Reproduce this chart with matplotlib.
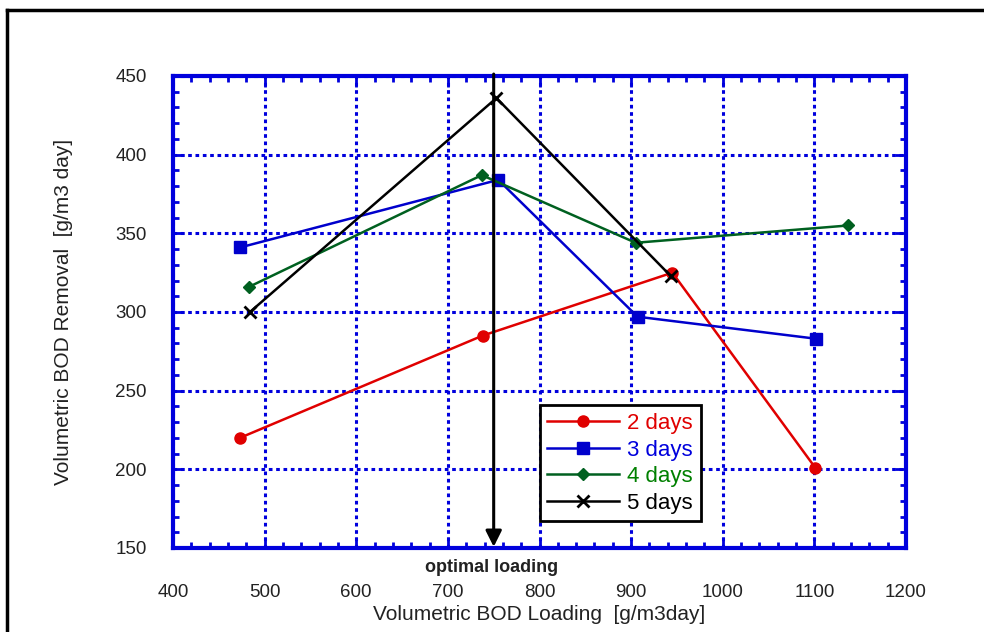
import numpy as np
import matplotlib
matplotlib.use("Agg")
import matplotlib.pyplot as plt
from matplotlib.lines import Line2D
from matplotlib.ticker import MultipleLocator

plt.rcParams['font.family'] = ['Liberation Sans', 'DejaVu Sans']

# data
x2 = [473, 738, 945, 1101]
y2 = [220, 285, 325, 201]
x3 = [473, 755, 907, 1102]
y3 = [341, 384, 297, 283]
x4 = [483, 737, 905, 1137]
y4 = [316, 387, 344, 355]
x5 = [484, 753, 943]
y5 = [300, 436, 323]
opt_x = 750

fig = plt.figure(figsize=(9.84, 6.32), dpi=100)
ax = fig.add_axes([173/984, 1-548/632, (906-173)/984, (548-76)/632])

ax.plot(x2, y2, color='#e00000', lw=1.8, marker='o', ms=8, label='2 days')
ax.plot(x3, y3, color='#0000cc', lw=1.8, marker='s', ms=8, label='3 days')
ax.plot(x4, y4, color='#006020', lw=1.8, marker='D', ms=6, label='4 days')
ax.plot(x5, y5, color='black', lw=1.8, marker='x', ms=9, mew=2, label='5 days')

ax.set_xlim(400, 1200)
ax.set_ylim(150, 450)
ax.xaxis.set_major_locator(MultipleLocator(100))
ax.xaxis.set_minor_locator(MultipleLocator(20))
ax.yaxis.set_major_locator(MultipleLocator(50))
ax.yaxis.set_minor_locator(MultipleLocator(10))
ax.tick_params(which='both', direction='in', top=True, right=True,
               color='#0000dd', labelsize=13.5, labelcolor='#222222')
ax.tick_params(axis='x', which='major', pad=26)
ax.tick_params(axis='y', which='major', pad=19)
ax.tick_params(which='major', length=8, width=2)
ax.tick_params(which='minor', length=4, width=2)
for s in ax.spines.values():
    s.set_color('#0000dd')
    s.set_linewidth(3)
ax.grid(True, which='major', color='#0000dd', ls=(0, (1.2, 1.2)), lw=2.2)
ax.set_axisbelow(True)

ax.set_xlabel('Volumetric BOD Loading  [g/m3day]', fontsize=15, color='#222222', labelpad=3)
ax.set_ylabel('Volumetric BOD Removal  [g/m3 day]', fontsize=15, color='#222222', labelpad=30)

# optimal loading arrow
ax.annotate('', xy=(opt_x, 149), xytext=(opt_x, 453),
            arrowprops=dict(arrowstyle='-|>', color='black', lw=2.2, mutation_scale=24),
            annotation_clip=False)
ax.text(opt_x - 2, 143, 'optimal loading', ha='center', va='top',
        fontsize=13, fontweight='bold', color='#222222')

leg = ax.legend(loc='upper left', bbox_to_anchor=(0.485, 0.326), fontsize=16,
                frameon=True, fancybox=False, handlelength=3.2,
                borderpad=0.35, labelspacing=0.25, handletextpad=0.4)
leg.get_frame().set_edgecolor('black')
leg.get_frame().set_linewidth(2)
leg.get_frame().set_alpha(1)
for t, c in zip(leg.get_texts(), ['#e00000', '#0000dd', '#008000', 'black']):
    t.set_color(c)

# figure border (top and left only visible)
fig.add_artist(Line2D([7/984, 1.0], [1-10/632, 1-10/632], color='black', lw=2.5,
                      transform=fig.transFigure))
fig.add_artist(Line2D([7/984, 7/984], [0.0, 1-10/632], color='black', lw=2.5,
                      transform=fig.transFigure))

fig.savefig('out.png', dpi=100)
